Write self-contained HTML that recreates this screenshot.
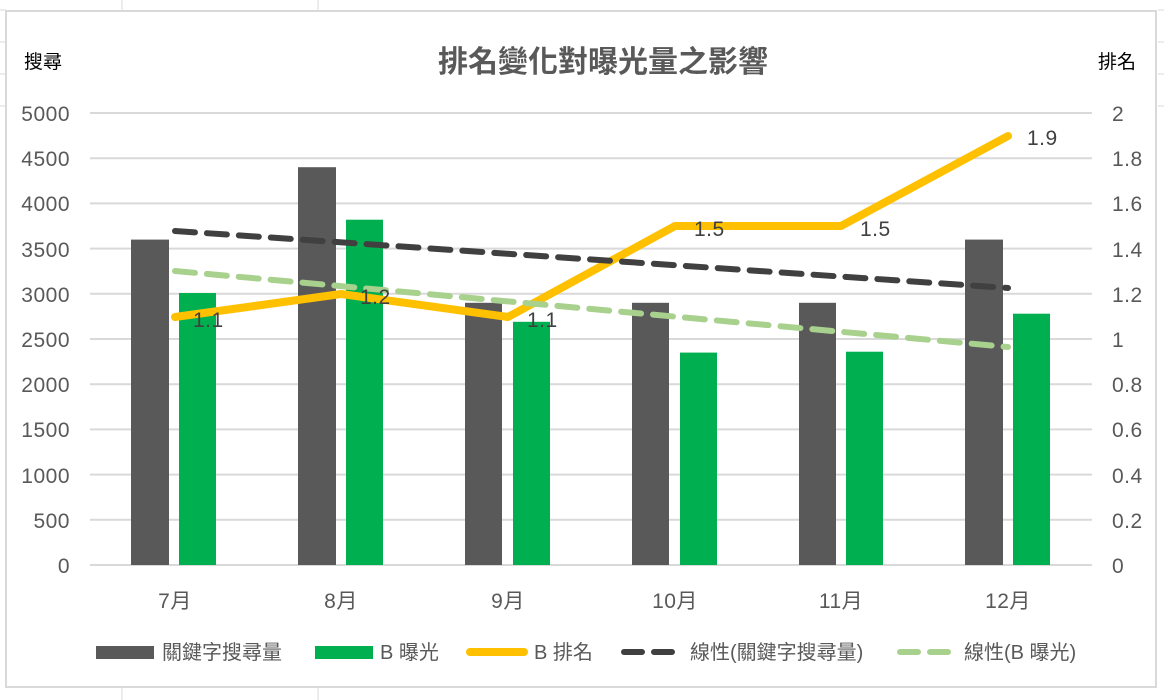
<!DOCTYPE html>
<html><head><meta charset="utf-8"><style>
body{margin:0;background:#fff;}
svg{display:block;font-family:"Liberation Sans","Noto Sans CJK TC",sans-serif;}
</style></head><body>
<svg width="1164" height="700" viewBox="0 0 1164 700">
<g stroke="#d9d9d9" stroke-width="1">
<line x1="122" y1="0" x2="122" y2="11"/><line x1="318" y1="0" x2="318" y2="11"/>
<line x1="122" y1="688" x2="122" y2="700"/><line x1="318" y1="688" x2="318" y2="700"/>
<line x1="0" y1="10" x2="6" y2="10"/><line x1="0" y1="42" x2="6" y2="42"/><line x1="0" y1="74" x2="6" y2="74"/><line x1="0" y1="106" x2="6" y2="106"/>
<line x1="1158" y1="10" x2="1164" y2="10"/><line x1="1158" y1="42" x2="1164" y2="42"/><line x1="1158" y1="74" x2="1164" y2="74"/><line x1="1158" y1="106" x2="1164" y2="106"/>
</g>
<rect x="6" y="11" width="1150" height="676" fill="#fff" stroke="#d9d9d9" stroke-width="2"/>
<g stroke="#d9d9d9" stroke-width="2">
<line x1="90" y1="113" x2="1092" y2="113"/><line x1="90" y1="158.2" x2="1092" y2="158.2"/><line x1="90" y1="203.4" x2="1092" y2="203.4"/><line x1="90" y1="248.6" x2="1092" y2="248.6"/><line x1="90" y1="293.8" x2="1092" y2="293.8"/><line x1="90" y1="339" x2="1092" y2="339"/><line x1="90" y1="384.2" x2="1092" y2="384.2"/><line x1="90" y1="429.4" x2="1092" y2="429.4"/><line x1="90" y1="474.6" x2="1092" y2="474.6"/><line x1="90" y1="519.8" x2="1092" y2="519.8"/><line x1="90" y1="565" x2="1092" y2="565"/>
</g>
<text x="603" y="72" text-anchor="middle" font-size="30" font-weight="bold" fill="#595959">排名變化對曝光量之影響</text>
<text x="24" y="68" font-size="19" fill="#000">搜尋</text>
<text x="1098" y="68" font-size="19" fill="#000">排名</text>
<g font-size="21" fill="#595959" text-anchor="end" letter-spacing="0.5">
<text x="70" y="121">5000</text><text x="70" y="166">4500</text><text x="70" y="211">4000</text><text x="70" y="257">3500</text><text x="70" y="302">3000</text><text x="70" y="347">2500</text><text x="70" y="392">2000</text><text x="70" y="437">1500</text><text x="70" y="483">1000</text><text x="70" y="528">500</text><text x="70" y="573">0</text>
</g>
<g font-size="21" fill="#595959" text-anchor="start" letter-spacing="0.5">
<text x="1112" y="121">2</text><text x="1112" y="166">1.8</text><text x="1112" y="211">1.6</text><text x="1112" y="257">1.4</text><text x="1112" y="302">1.2</text><text x="1112" y="347">1</text><text x="1112" y="392">0.8</text><text x="1112" y="437">0.6</text><text x="1112" y="483">0.4</text><text x="1112" y="528">0.2</text><text x="1112" y="573">0</text>
</g>
<g fill="#595959">
<rect x="131" y="239.6" width="38" height="325.4"/>
<rect x="298" y="167.2" width="38" height="397.8"/>
<rect x="465" y="302.8" width="37" height="262.2"/>
<rect x="632" y="302.8" width="37" height="262.2"/>
<rect x="799" y="302.8" width="37" height="262.2"/>
<rect x="965" y="239.6" width="38" height="325.4"/>
</g>
<g fill="#00b050">
<rect x="179" y="293" width="37" height="272"/>
<rect x="346" y="219.7" width="37" height="345.3"/>
<rect x="513" y="321.8" width="37" height="243.2"/>
<rect x="680" y="352.6" width="37" height="212.4"/>
<rect x="846" y="351.7" width="37" height="213.3"/>
<rect x="1013" y="313.7" width="37" height="251.3"/>
</g>
<polyline points="175,317 341,294 508,317 675,226 841,226 1008,136" fill="none" stroke="#ffc000" stroke-width="8" stroke-linecap="round" stroke-linejoin="round"/>
<line x1="175" y1="231" x2="1008" y2="288" stroke="#404040" stroke-width="6" stroke-dasharray="20 12" stroke-linecap="round"/>
<line x1="175" y1="271" x2="1008" y2="347" stroke="#a9d18e" stroke-width="6" stroke-dasharray="20 12" stroke-linecap="round"/>
<g font-size="21" fill="#404040" letter-spacing="0.5">
<text x="193" y="327">1.1</text><text x="360" y="304">1.2</text><text x="527" y="327">1.1</text><text x="694" y="236">1.5</text><text x="860" y="236">1.5</text><text x="1027" y="145">1.9</text>
</g>
<g font-size="21" fill="#595959" text-anchor="middle" letter-spacing="0.5">
<text x="175" y="608">7月</text><text x="341" y="608">8月</text><text x="508" y="608">9月</text><text x="675" y="608">10月</text><text x="841" y="608">11月</text><text x="1008" y="608">12月</text>
</g>
<g font-size="20" fill="#595959">
<rect x="96" y="646" width="58" height="13" fill="#595959"/><text x="162" y="659">關鍵字搜尋量</text>
<rect x="315" y="646" width="58" height="13" fill="#00b050"/><text x="380" y="659">B 曝光</text>
<line x1="470" y1="652" x2="524" y2="652" stroke="#ffc000" stroke-width="8" stroke-linecap="round"/><text x="534" y="659">B 排名</text>
<line x1="624" y1="652" x2="680" y2="652" stroke="#404040" stroke-width="6" stroke-dasharray="18 12" stroke-linecap="round"/><text x="690" y="659">線性(關鍵字搜尋量)</text>
<line x1="900" y1="652" x2="956" y2="652" stroke="#a9d18e" stroke-width="6" stroke-dasharray="18 12" stroke-linecap="round"/><text x="964" y="659">線性(B 曝光)</text>
</g>
</svg>
</body></html>
